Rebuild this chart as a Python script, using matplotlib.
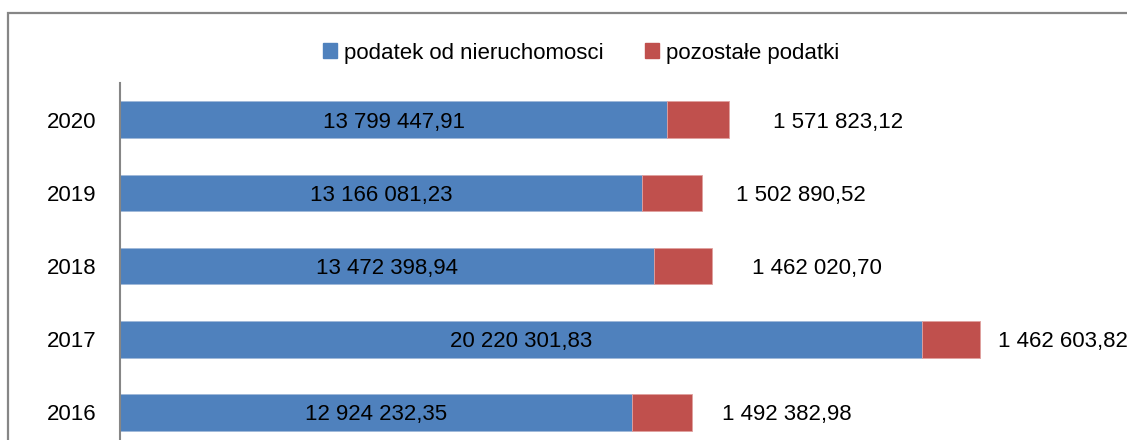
import matplotlib
matplotlib.use("Agg")
import matplotlib.pyplot as plt
from matplotlib import font_manager
from matplotlib.patches import Rectangle, Patch

# data (top to bottom as in the chart)
years = ["2020", "2019", "2018", "2017", "2016"]
podatek_nieruch = [13799447.91, 13166081.23, 13472398.94, 20220301.83, 12924232.35]
pozostale = [1571823.12, 1502890.52, 1462020.70, 1462603.82, 1492382.98]
series_names = ["podatek od nieruchomosci", "pozostałe podatki"]

# gap between bar end and outside label, in pixels (as placed in the original)
label_gap = [44, 34, 40, 18, 30]

BLUE = "#4F81BD"
RED = "#C0504D"
GRAY = "#868686"

names = {f.name for f in font_manager.fontManager.ttflist}
family = "Liberation Sans Narrow" if "Liberation Sans Narrow" in names else "Liberation Sans"
narrow = family.endswith("Narrow")
FS = 18 if narrow else 16
plt.rcParams["font.family"] = [family, "DejaVu Sans"]


def fmt(v):
    s = "{:,.2f}".format(v)
    return s.replace(",", " ").replace(".", ",")


W, H = 1127, 440
fig = plt.figure(figsize=(W / 100, H / 100), dpi=100)

# chart border (cut off at right and bottom)
fig.patches.append(Rectangle((8 / W, -0.1), 1.2, 1 - 13 / H + 0.1, transform=fig.transFigure,
                             fill=False, edgecolor=GRAY, linewidth=1.6))

ax = fig.add_axes([120 / W, -9 / H, 1 - 120 / W, 366 / H])
pos = list(range(len(years)))
ax.barh(pos, podatek_nieruch, height=0.5, color=BLUE, edgecolor="#9FB8D9", linewidth=0.6)
ax.barh(pos, pozostale, left=podatek_nieruch, height=0.5, color=RED, edgecolor="#E0A09E", linewidth=0.6)

ax.set_xlim(0, 25.4e6)
ax.set_ylim(len(years) - 0.5, -0.5)
ax.set_yticks(pos)
ax.set_yticklabels(years, fontsize=FS, va="center_baseline")
ax.tick_params(axis="y", length=0, pad=17)
ax.set_xticks([])
for s in ["top", "right", "bottom"]:
    ax.spines[s].set_visible(False)
ax.spines["left"].set_color(GRAY)
ax.spines["left"].set_linewidth(1.5)

for i in pos:
    ax.text(podatek_nieruch[i] / 2, i, fmt(podatek_nieruch[i]), ha="center", va="center_baseline",
            fontsize=FS)
    end = podatek_nieruch[i] + pozostale[i]
    ax.annotate(fmt(pozostale[i]), (end, i), xytext=(label_gap[i] * 0.72, 0), textcoords="offset points",
                ha="left", va="center_baseline", fontsize=FS)

handles = [Patch(color=BLUE), Patch(color=RED)]
fig.legend(handles, series_names, loc="center", bbox_to_anchor=(581 / W, 1 - 53 / H), ncol=2,
           frameon=False, fontsize=FS, handlelength=0.65, handleheight=0.65, handletextpad=0.3,
           columnspacing=1.85)

fig.savefig("out.png", dpi=100)
